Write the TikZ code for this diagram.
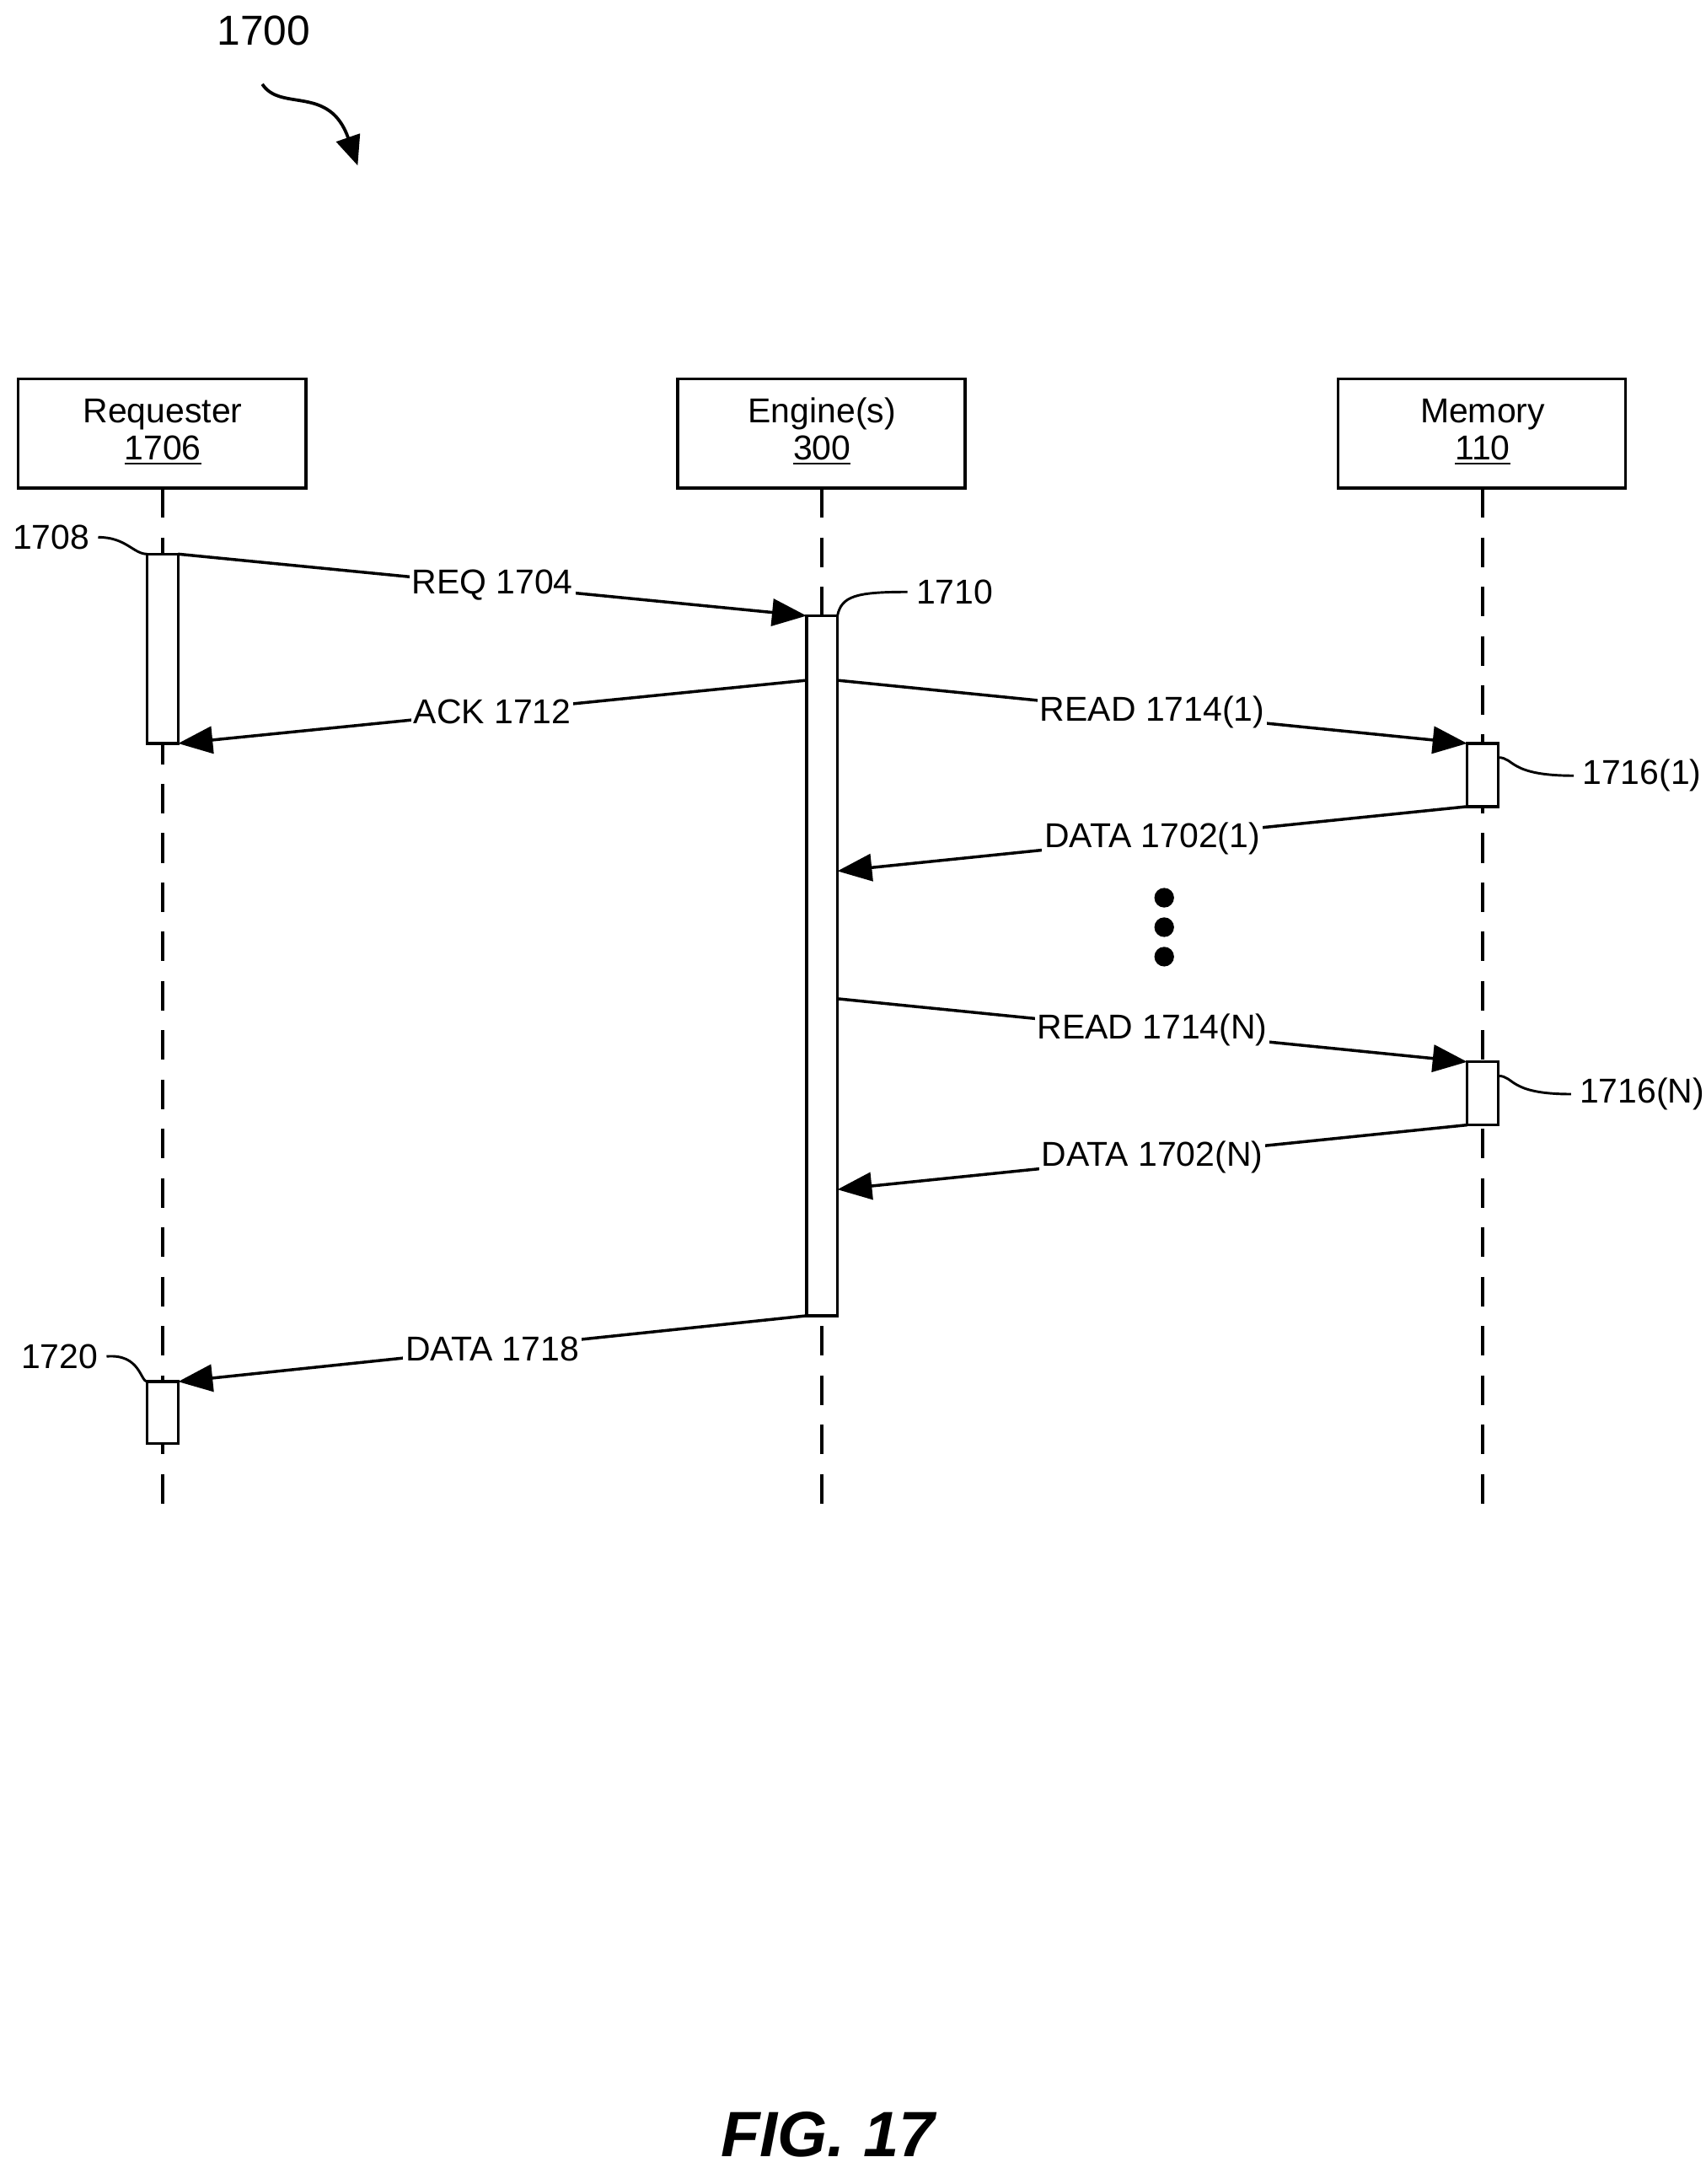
\documentclass[tikz,border=0pt]{standalone}
\usepackage{fontspec}
\setmainfont{Liberation Sans}
\usetikzlibrary{arrows.meta}
\begin{document}
\begin{tikzpicture}[x=0.02cm,y=-0.02cm,font=\fontsize{14}{16}\selectfont,
 box/.style={draw,line width=1.2pt},
 life/.style={line width=1.2pt,dash pattern=on 12pt off 8pt},
 bar/.style={draw,fill=white,line width=1.2pt},
 msg/.style={line width=1.2pt,-{Triangle[length=14pt,width=11pt]}},
 lab/.style={fill=white,inner sep=1pt},
 curl/.style={line width=1pt}]
\useasboundingbox (0,0) rectangle (1216,1557);
\node[font=\fontsize{17}{20}\selectfont] (t1700) at (188,22) {1700};
\coordinate (s1) at (187,60); \coordinate (s2) at (255,118);
\draw[line width=1.3pt,-{Triangle[length=12pt,width=10pt]}] (s1) .. controls (200,80) and (235,60) .. (s2);
\foreach \n/\x/\a/\b in {req/116/Requester/1706,eng/586/Engine(s)/300,mem/1057/Memory/110}{
 \draw[box] (\x-103,270) rectangle (\x+102,348);
 \node (\n) at (\x,309) {\begin{tabular}{c}\a\\[-1pt]\underline{\b}\end{tabular}};
 \coordinate (\n top) at (\x,348); \coordinate (\n bot) at (\x,1075);
 \draw[life] (\n top) -- (\n bot);}
\draw[bar] (105,395) rectangle (127,530);
\draw[bar] (575,439) rectangle (597,938);
\draw[bar] (1046,530) rectangle (1068,575);
\draw[bar] (1046,757) rectangle (1068,802);
\draw[bar] (105,985) rectangle (127,1029);
\draw[msg] (127,395) -- node[lab]{REQ 1704} (575,439);
\draw[msg] (575,485) -- node[lab]{ACK 1712} (127,530);
\draw[msg] (597,485) -- node[lab,pos=.5]{READ 1714(1)} (1046,530);
\draw[msg] (1046,575) -- node[lab]{DATA 1702(1)} (597,621);
\draw[msg] (597,712) -- node[lab]{READ 1714(N)} (1046,757);
\draw[msg] (1046,802) -- node[lab]{DATA 1702(N)} (597,848);
\draw[msg] (575,938) -- node[lab]{DATA 1718} (127,985);
\foreach \y in {640,661,682} \fill (830,\y) circle (7);
\node[anchor=east] (l1708) at (70,383) {1708};
\draw[curl] (l1708.east) .. controls (90,383) and (95,395) .. (105,395);
\node[anchor=west] (l1710) at (647,422) {1710};
\draw[curl] (597,439) .. controls (600,425) and (610,422) .. (l1710.west);
\node[anchor=west] (l1716a) at (1122,553) {1716(1)};
\draw[curl] (1068,540) .. controls (1080,540) and (1075,553) .. (l1716a.west);
\node[anchor=west] (l1716n) at (1120,780) {1716(N)};
\draw[curl] (1068,767) .. controls (1080,767) and (1075,780) .. (l1716n.west);
\node[anchor=east] (l1720) at (76,967) {1720};
\draw[curl] (l1720.east) .. controls (100,965) and (100,985) .. (105,985);
\node[font=\bfseries\itshape\fontsize{26}{30}\selectfont] (fig) at (590,1522) {FIG. 17};
\end{tikzpicture}
\end{document}
